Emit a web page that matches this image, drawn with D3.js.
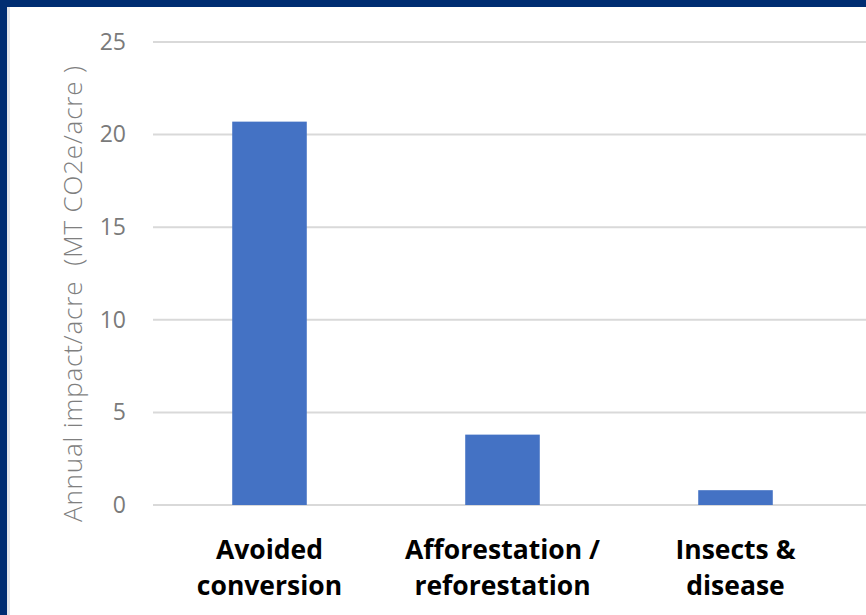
<!DOCTYPE html>
<html>
<head>
<meta charset="utf-8">
<script src="https://cdn.jsdelivr.net/npm/d3@7"></script>
<style>
  html, body { margin: 0; padding: 0; background: #ffffff; }
  svg { display: block; }
</style>
</head>
<body>
<svg id="chart" width="866" height="615"></svg>
<script>
// Annual carbon impact per acre by forest practice
const categories = [["Avoided", "conversion"], ["Afforestation /", "reforestation"], ["Insects &", "disease"]];
const values = [20.7, 3.8, 0.8];
const yTicks = [0, 5, 10, 15, 20, 25];
const yTitle = "Annual impact/acre  (MT CO2e/acre )";

const svg = d3.select("#chart");
const W = 866, H = 615;

// frame: navy band on top and left, with a soft light edge
svg.append("rect").attr("x", 0).attr("y", 0).attr("width", W).attr("height", H).attr("fill", "#ffffff");
svg.append("rect").attr("x", 0).attr("y", 0).attr("width", W).attr("height", 7).attr("fill", "#002d72");
svg.append("rect").attr("x", 0).attr("y", 0).attr("width", 7).attr("height", H).attr("fill", "#002d72");
svg.append("rect").attr("x", 7).attr("y", 7).attr("width", 3).attr("height", H - 7).attr("fill", "#e4e6ea");

const x = d3.scaleBand().domain(d3.range(categories.length)).range([153, 852]).paddingInner(0.68).paddingOuter(0.34);
const y = d3.scaleLinear().domain([0, 25]).range([505, 42]);

// gridlines
svg.append("g").selectAll("line").data(yTicks).join("line")
  .attr("x1", 153).attr("x2", W)
  .attr("y1", d => y(d)).attr("y2", d => y(d))
  .attr("stroke", "#d9d9d9").attr("stroke-width", 2);

// y tick labels
const yAxis = d3.axisLeft(y).tickValues(yTicks).tickSize(0).tickPadding(0);
const ga = svg.append("g").attr("transform", "translate(126,0)").call(yAxis);
ga.select(".domain").remove();
ga.selectAll("text")
  .attr("font-family", "'Open Sans', sans-serif")
  .attr("font-size", 23).attr("fill", "#7a7a7a");

// bars
svg.append("g").selectAll("rect").data(values).join("rect")
  .attr("x", (d, i) => x(i))
  .attr("width", x.bandwidth())
  .attr("y", d => y(d))
  .attr("height", d => y(0) - y(d))
  .attr("fill", "#4472c4");

// category labels
const lab = svg.append("g").selectAll("text").data(categories).join("text")
  .attr("text-anchor", "middle")
  .attr("font-family", "'Open Sans', sans-serif")
  .attr("font-weight", "bold").attr("font-size", 26.5).attr("fill", "#000000");
lab.each(function (d, i) {
  const t = d3.select(this);
  d.forEach((line, k) => {
    t.append("tspan").attr("x", x(i) + x.bandwidth() / 2).attr("y", 559 + k * 36).text(line);
  });
});

// y axis title
svg.append("text")
  .attr("transform", "translate(82,294) rotate(-90)")
  .attr("text-anchor", "middle")
  .attr("font-family", "'Open Sans', sans-serif")
  .attr("font-weight", 300)
  .attr("font-size", 26).attr("fill", "#7f7f7f")
  .attr("textLength", 456).attr("lengthAdjust", "spacing")
  .style("white-space", "pre")
  .text(yTitle);
</script>
</body>
</html>
